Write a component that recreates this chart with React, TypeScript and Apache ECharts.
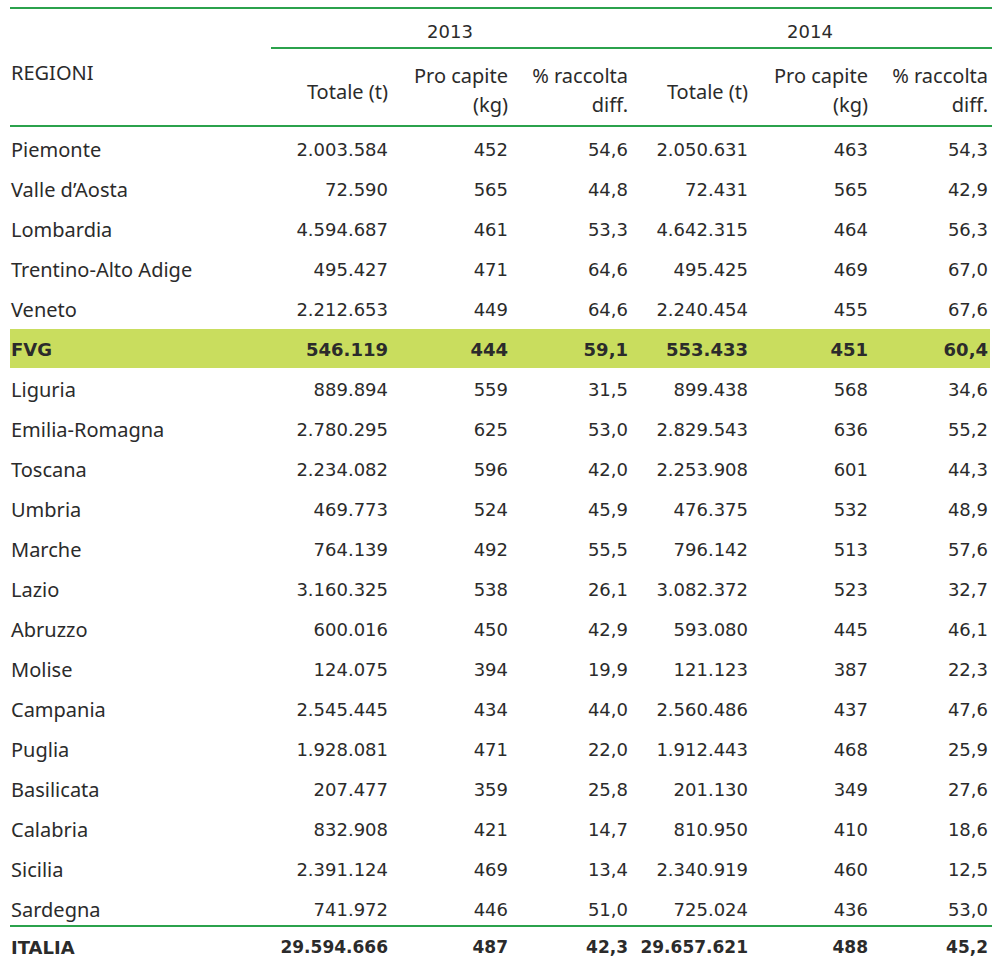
import React, { useEffect, useRef } from "react";
import * as echarts from "echarts";

const regions = ["Piemonte", "Valle d’Aosta", "Lombardia", "Trentino-Alto Adige", "Veneto", "FVG", "Liguria", "Emilia-Romagna", "Toscana", "Umbria", "Marche", "Lazio", "Abruzzo", "Molise", "Campania", "Puglia", "Basilicata", "Calabria", "Sicilia", "Sardegna"];
const totale2013 = [2003584, 72590, 4594687, 495427, 2212653, 546119, 889894, 2780295, 2234082, 469773, 764139, 3160325, 600016, 124075, 2545445, 1928081, 207477, 832908, 2391124, 741972];
const proCapite2013 = [452, 565, 461, 471, 449, 444, 559, 625, 596, 524, 492, 538, 450, 394, 434, 471, 359, 421, 469, 446];
const raccolta2013 = [54.6, 44.8, 53.3, 64.6, 64.6, 59.1, 31.5, 53.0, 42.0, 45.9, 55.5, 26.1, 42.9, 19.9, 44.0, 22.0, 25.8, 14.7, 13.4, 51.0];
const totale2014 = [2050631, 72431, 4642315, 495425, 2240454, 553433, 899438, 2829543, 2253908, 476375, 796142, 3082372, 593080, 121123, 2560486, 1912443, 201130, 810950, 2340919, 725024];
const proCapite2014 = [463, 565, 464, 469, 455, 451, 568, 636, 601, 532, 513, 523, 445, 387, 437, 468, 349, 410, 460, 436];
const raccolta2014 = [54.3, 42.9, 56.3, 67.0, 67.6, 60.4, 34.6, 55.2, 44.3, 48.9, 57.6, 32.7, 46.1, 22.3, 47.6, 25.9, 27.6, 18.6, 12.5, 53.0];
const totalLabel = "ITALIA";
const totalRow = [29594666, 487, 42.3, 29657621, 488, 45.2];
const years = ["2013", "2014"];
const columnHeaders = [["Totale (t)"], ["Pro capite", "(kg)"], ["% raccolta", "diff."]];
const highlightRegion = "FVG";

const GREEN = "#2ba24c";
const HIGHLIGHT = "#c9dd5e";
const TEXT = "#2b2b2b";
const LABEL_FONT = "'Noto Sans', 'Open Sans', sans-serif";
const NUM_FONT = "'DejaVu Sans', Verdana, sans-serif";

function fmtInt(v: number): string {
  return Math.round(v).toString().replace(/\B(?=(\d{3})+(?!\d))/g, ".");
}
function fmtDec(v: number): string {
  return v.toFixed(1).replace(".", ",");
}

export default function App() {
  const ref = useRef<HTMLDivElement>(null);
  useEffect(() => {
    if (!ref.current) return;
    const chart = echarts.init(ref.current, undefined, { renderer: "svg" });
    const els: any[] = [];
    const colRight = [388, 508, 628, 748, 868, 988];
    const rowY = (i: number) => 149 + 40 * i;
    const line = (x1: number, y: number, x2: number) =>
      els.push({ type: "line", shape: { x1, y1: y, x2, y2: y }, style: { stroke: GREEN, lineWidth: 2 } });
    const txt = (text: string, x: number, y: number, align: string, font: string, size: number, bold = false) =>
      els.push({
        type: "text",
        x,
        y,
        style: { text, align, verticalAlign: "middle", fontFamily: font, fontSize: size, fontWeight: bold ? "bold" : "normal", fill: TEXT },
      });

    // header
    line(10, 8, 992);
    line(271, 48, 992);
    line(10, 126, 992);
    txt(years[0], 450, 31, "center", NUM_FONT, 18);
    txt(years[1], 810, 31, "center", NUM_FONT, 18);
    txt("REGIONI", 11, 72, "left", LABEL_FONT, 20);
    for (let g = 0; g < 2; g++) {
      columnHeaders.forEach((lines, c) => {
        const x = colRight[g * 3 + c];
        if (lines.length === 1) txt(lines[0], x, 91, "right", LABEL_FONT, 20);
        else {
          txt(lines[0], x, 75, "right", LABEL_FONT, 20);
          txt(lines[1], x, 104, "right", LABEL_FONT, 20);
        }
      });
    }

    // rows
    regions.forEach((name, i) => {
      const y = rowY(i);
      const bold = name === highlightRegion;
      if (bold) {
        els.push({ type: "rect", shape: { x: 10, y: y - 20, width: 980, height: 39 }, style: { fill: HIGHLIGHT }, z: -1 });
      }
      txt(name, 11, y, "left", bold ? NUM_FONT : LABEL_FONT, bold ? 18 : 20, bold);
      const vals = [fmtInt(totale2013[i]), fmtInt(proCapite2013[i]), fmtDec(raccolta2013[i]), fmtInt(totale2014[i]), fmtInt(proCapite2014[i]), fmtDec(raccolta2014[i])];
      vals.forEach((v, c) => txt(v, colRight[c], y, "right", NUM_FONT, 18, bold));
    });

    line(10, 926, 992);
    const ty = 947;
    txt(totalLabel, 11, ty, "left", NUM_FONT, 18, true);
    const tv = [fmtInt(totalRow[0]), fmtInt(totalRow[1]), fmtDec(totalRow[2]), fmtInt(totalRow[3]), fmtInt(totalRow[4]), fmtDec(totalRow[5])];
    tv.forEach((v, c) => txt(v, colRight[c], ty, "right", NUM_FONT, 17, true));

    chart.setOption({ animation: false, graphic: { elements: els } });
    return () => chart.dispose();
  }, []);
  return <div ref={ref} style={{ position: "absolute", left: 0, top: 0, width: 992, height: 961, background: "#fff" }} />;
}
